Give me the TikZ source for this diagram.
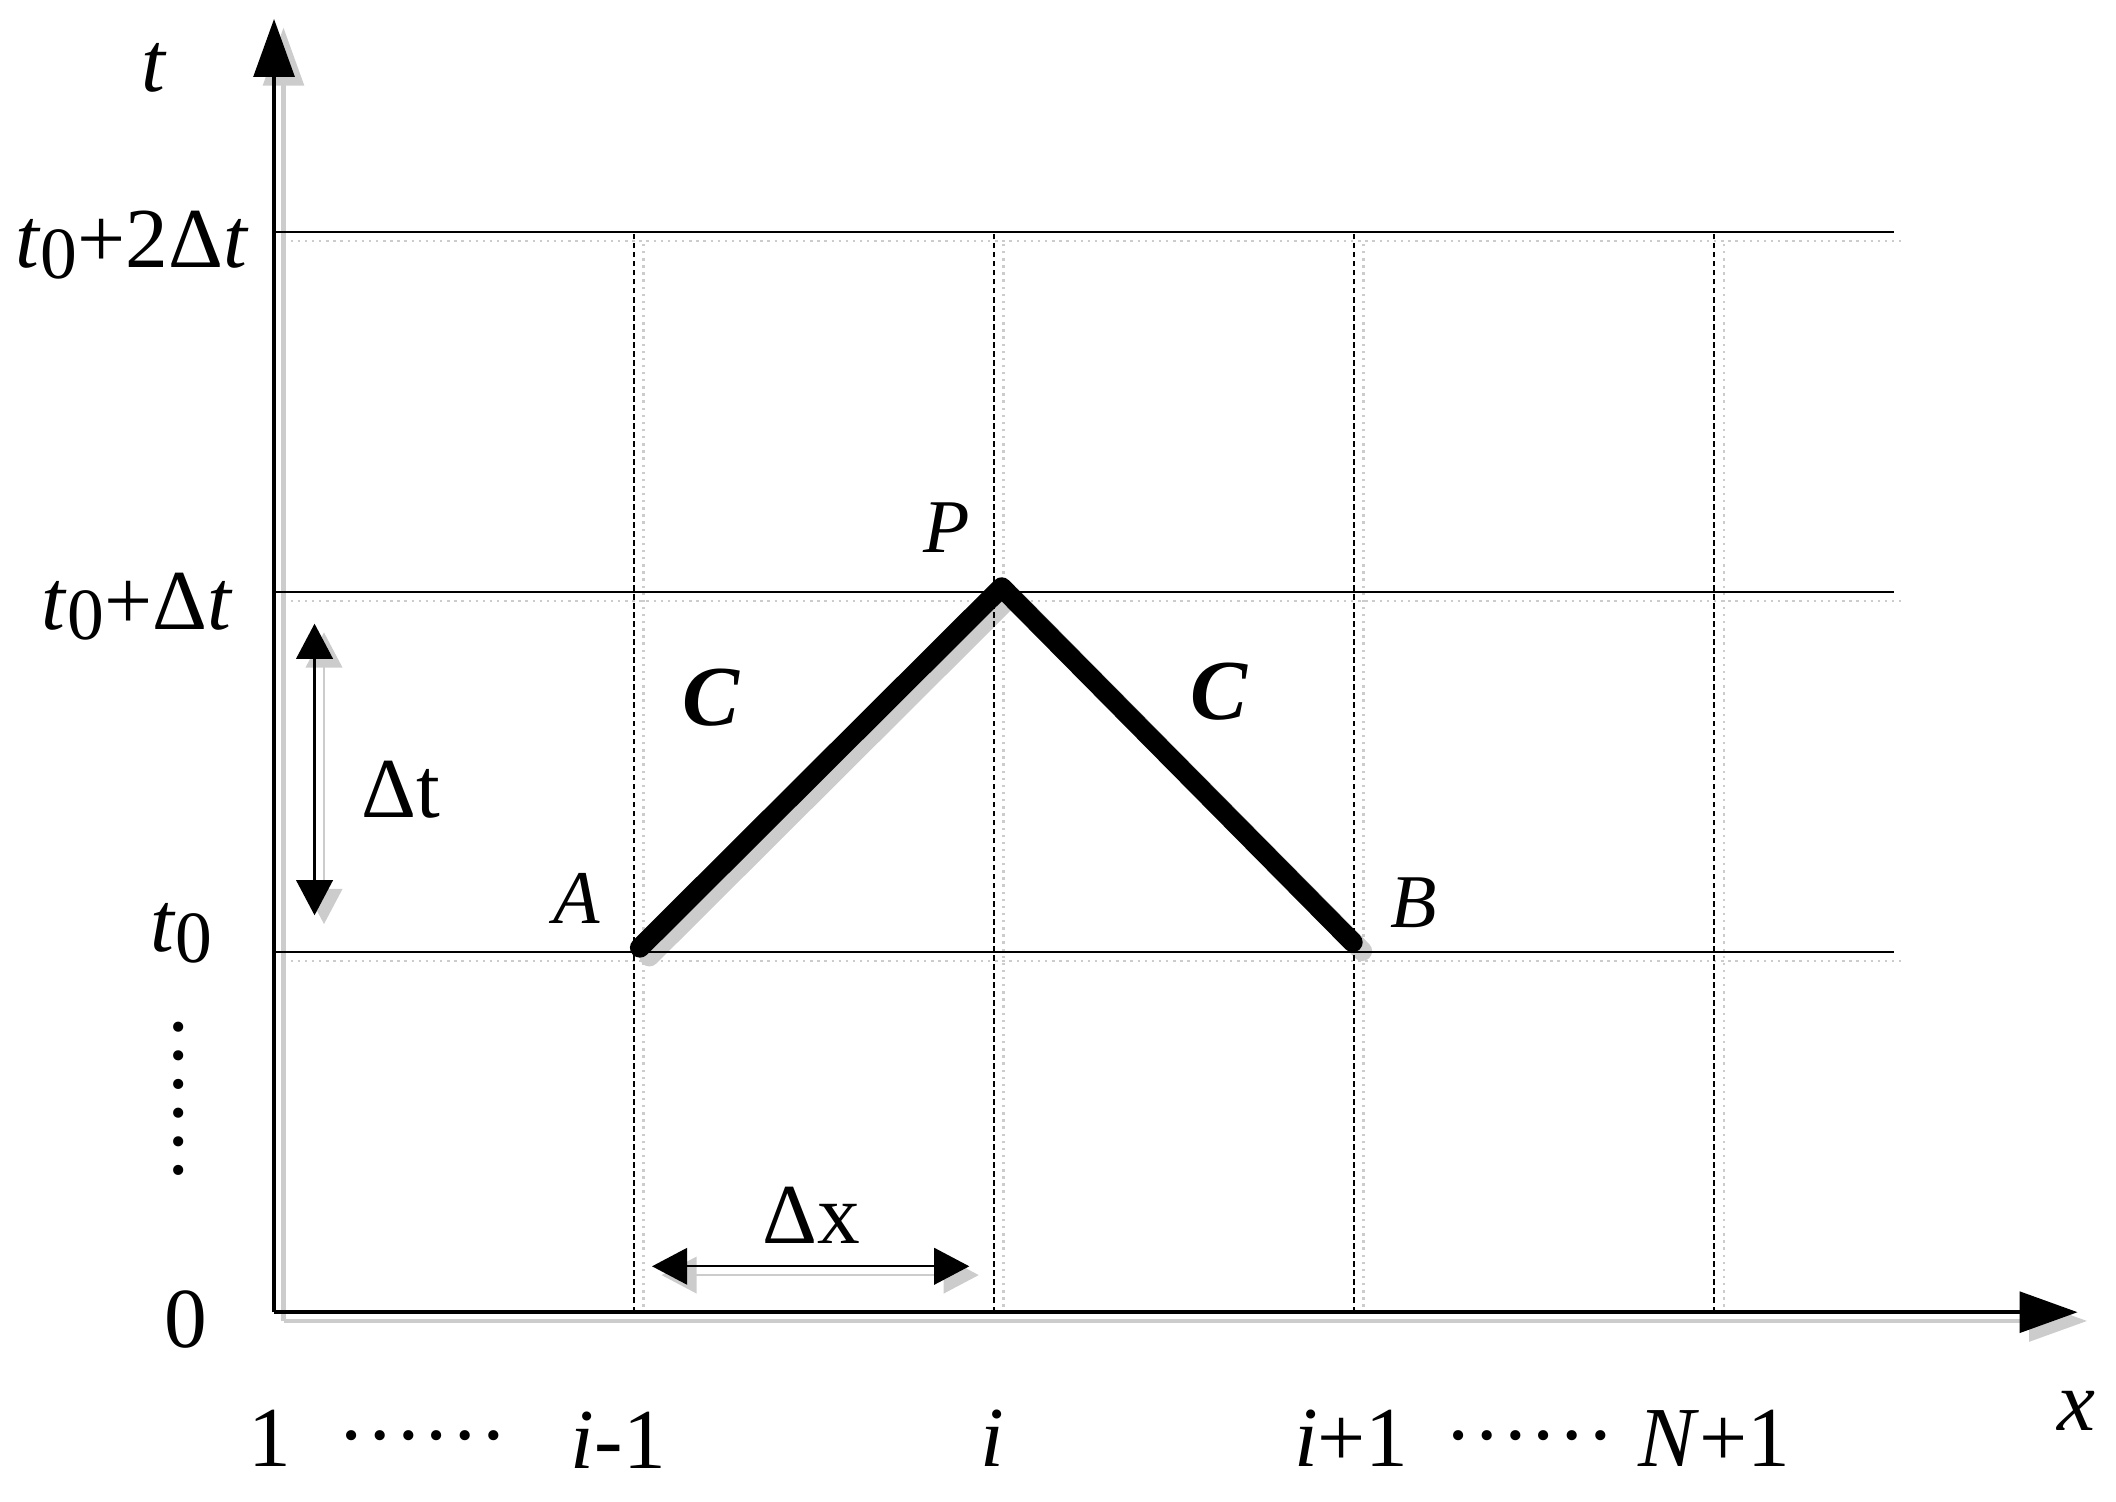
\documentclass[tikz,border=0pt]{standalone}
\usepackage{fontspec}
\setmainfont{Liberation Serif}
\usetikzlibrary{arrows.meta,positioning}

\def\cell{2.667}
\newcommand\tnull{\textit{t}{\fontsize{15.5}{16}\selectfont\raisebox{-0.08cm}{0}}}

\begin{document}
\begin{tikzpicture}[
  axis/.style={line width=0.95pt,-{Triangle[length=0.43cm,width=0.3cm]}},
  level/.style={line width=0.45pt},
  column/.style={line width=0.38pt,dash pattern=on 1.2pt off 0.7pt},
  wave/.style={line width=4.2pt,line cap=round,line join=round},
  span/.style={line width=0.5pt,{Triangle[length=0.26cm,width=0.27cm]}-{Triangle[length=0.26cm,width=0.27cm]}},
  shade/.style={draw=black!20,transform canvas={shift={(0.07cm,-0.065cm)}}},
  lbl/.style={inner sep=0pt,font=\fontsize{18}{20}\selectfont},
  pnt/.style={inner sep=0pt,font=\fontsize{16}{18}\selectfont\itshape}]
\useasboundingbox (-2.03,-1.40) rectangle (13.644,9.72);

% axes and characteristic points
\coordinate (O) at (0,0);
\coordinate (xtip) at (13.36,0);
\coordinate (ttip) at (0,9.58);
\coordinate (A) at (2.71,2.70);
\coordinate (P) at (5.39,5.37);
\coordinate (B) at (7.99,2.74);
\coordinate (dtup) at (0.30,5.10);
\coordinate (dtdn) at (0.30,2.94);
\coordinate (dxl) at (2.80,0.34);
\coordinate (dxr) at (5.15,0.34);

% shadows
\foreach \k in {1,2,3}
  \draw[shade,densely dotted,line width=0.5pt] (0,\k*\cell) -- (12.0,\k*\cell);
\foreach \k in {1,...,4}
  \draw[shade,densely dotted,line width=0.5pt] (\k*\cell,0) -- (\k*\cell,3*\cell);
\draw[shade,axis] (O) -- (xtip);
\draw[shade,axis] (O) -- (ttip);
\draw[shade,span] (dtup) -- (dtdn);
\draw[shade,span] (dxl) -- (dxr);
\draw[shade,wave] (A) -- (P) -- (B);

% grid
\foreach \k in {1,2,3}
  \draw[level] (0,\k*\cell) -- (12.0,\k*\cell);
\foreach \k in {1,...,4}
  \draw[column] (\k*\cell,0) -- (\k*\cell,3*\cell);

\draw[axis] (O) -- (xtip);
\draw[axis] (O) -- (ttip);
\draw[span] (dtup) -- (dtdn);
\draw[span] (dxl) -- (dxr);
\draw[wave] (A) -- (P) -- (B);

% labels on the t axis
\node (tlab) at (-0.89,9.04) [lbl,anchor=base] {\textit{t}};
\node (ltwo) at (-0.18,7.74) [lbl,anchor=base east] {\tnull+2Δ\textit{t}};
\node (lone) at (-0.30,5.06) [lbl,anchor=base east] {\tnull+Δ\textit{t}};
\node (lnull) at (-0.45,2.67) [lbl,anchor=base east] {\tnull};
\node (lzero) at (-0.49,-0.26) [lbl,anchor=base east] {0};
\node (vdots) at (-0.68,1.58) [lbl,rotate=90,anchor=base] {……};

% labels on the x axis
\node (none) at (-0.03,-1.14) [lbl,anchor=base] {1};
\node (dleft) at (1.10,-0.94) [lbl,anchor=base] {……};
\node (nim) at (2.55,-1.16) [lbl,anchor=base] {\textit{i}-1};
\node (ni) at (5.32,-1.14) [lbl,anchor=base] {\textit{i}};
\node (nip) at (7.98,-1.14) [lbl,anchor=base] {\textit{i}+1};
\node (dright) at (9.30,-0.94) [lbl,anchor=base] {……};
\node (nN) at (10.67,-1.14) [lbl,anchor=base] {\textit{N}+1};
\node (xlab) at (13.35,-0.73) [lbl] {\textit{x}};

% points and speeds
\node (Alab) [pnt,above left=0.17cm and 0.29cm of A] {A};
\node (Plab) [pnt,above left=0.25cm and 0.23cm of P] {P};
\node (Blab) [pnt,above right=0.10cm and 0.27cm of B] {B};
\node (cleft) at (3.24,4.55) [lbl,font=\fontsize{18}{20}\selectfont\bfseries\itshape] {C};
\node (cright) at (7.00,4.60) [lbl,font=\fontsize{18}{20}\selectfont\bfseries\itshape] {C};
\node (dtlab) at (0.94,3.87) [lbl] {Δt};
\node (dxlab) at (3.98,0.72) [lbl] {Δx};
\end{tikzpicture}
\end{document}
